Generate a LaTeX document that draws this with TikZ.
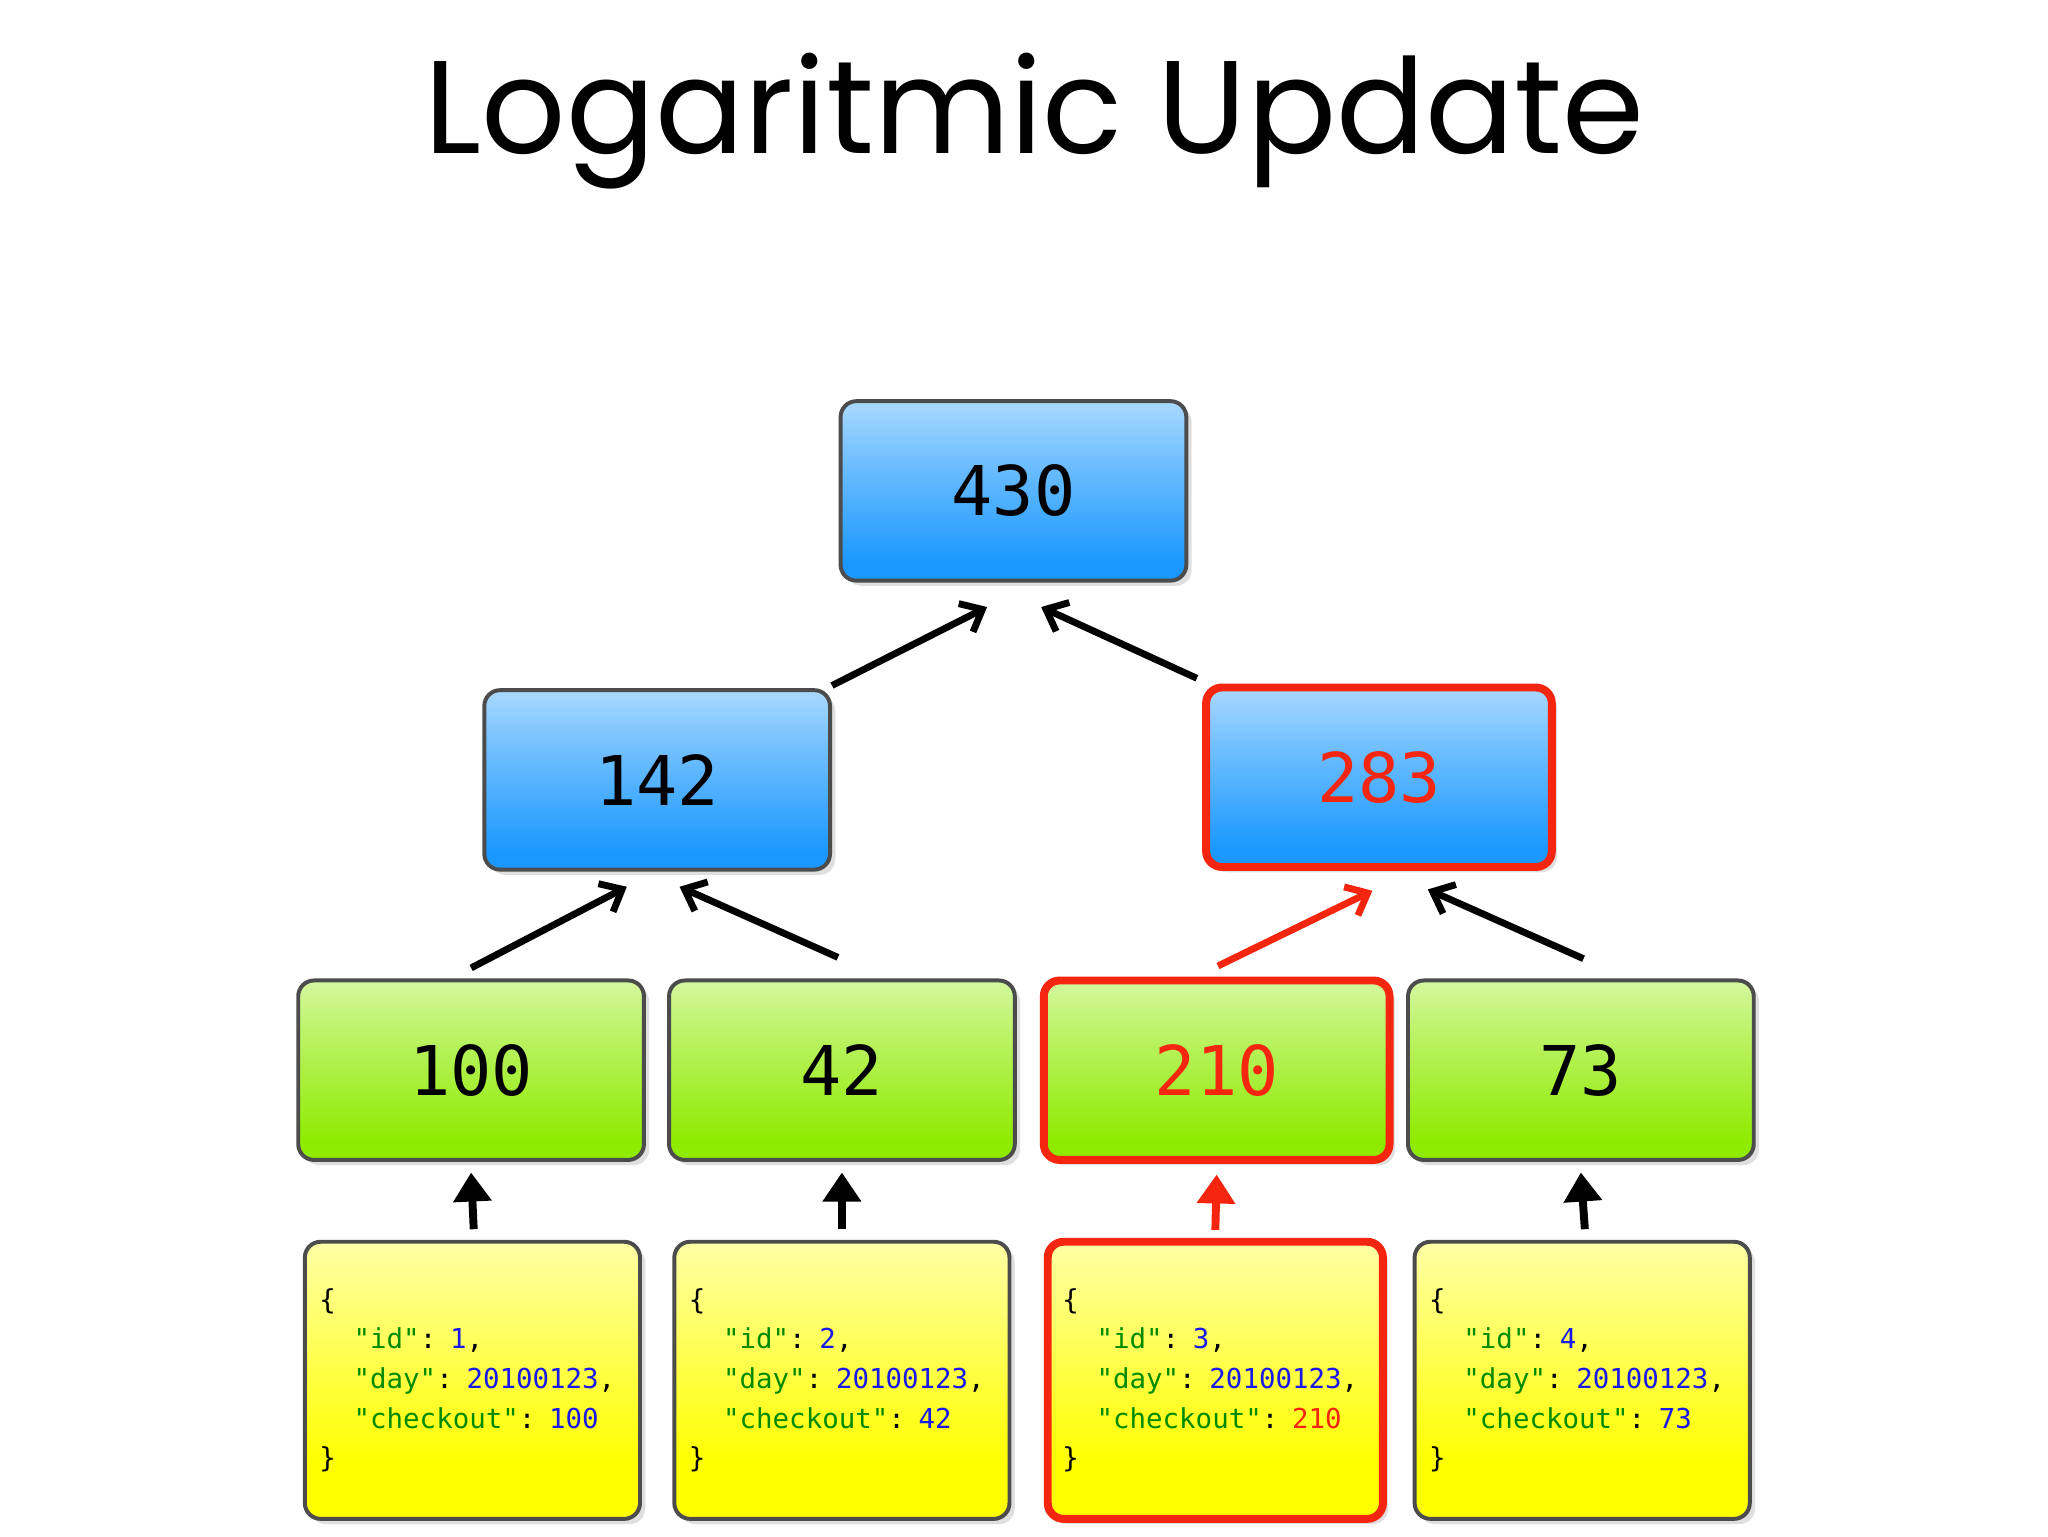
\documentclass[tikz,border=0pt]{standalone}
\usepackage{fontspec}
\setmonofont{DejaVu Sans Mono}
\newfontfamily\titlefont{Poppins}
\usetikzlibrary{shadows,arrows.meta}
\definecolor{bluec}{HTML}{1A98FF}
\definecolor{greenc}{HTML}{8EEB00}
\definecolor{yellowc}{HTML}{FFFF00}
\definecolor{keyc}{HTML}{008A00}
\definecolor{numc}{HTML}{1A1AE6}
\definecolor{redc}{HTML}{F5260F}
\pgfdeclareverticalshading{bshade}{100bp}{color(0bp)=(bluec!20!white); color(12bp)=(bluec); color(30bp)=(bluec); color(60bp)=(bluec!60!white); color(100bp)=(white)}
\pgfdeclareverticalshading{gshade}{100bp}{color(0bp)=(greenc!20!white); color(12bp)=(greenc); color(30bp)=(greenc); color(60bp)=(greenc!60!white); color(100bp)=(white)}
\pgfdeclareverticalshading{yshade}{100bp}{color(0bp)=(yellowc!15!white); color(12bp)=(yellowc); color(35bp)=(yellowc); color(75bp)=(yellowc!35!white); color(100bp)=(white)}
\tikzset{
  box/.style={draw=black!70, line width=1.5pt, rounded corners=6pt,
    drop shadow={shadow xshift=2pt, shadow yshift=-2pt, opacity=0.25},
    font=\ttfamily\fontsize{26}{30}\selectfont},
  bluebox/.style={box, shading=bshade, minimum width=131pt, minimum height=68pt},
  greenbox/.style={box, shading=gshade, minimum width=131pt, minimum height=68pt},
  yelbox/.style={box, shading=yshade, minimum width=127pt, minimum height=105pt,
    font=\ttfamily\fontsize{10.4}{15}\selectfont, align=left, text width=122pt, inner xsep=2.5pt, inner ysep=3pt},
  hot/.style={draw=redc, line width=3pt},
  arr/.style={line width=2.6pt, -{Straight Barb[length=7pt,width=12pt,line width=2.6pt]}},
  varr/.style={line width=3pt, -{Triangle[length=11pt,width=14pt]}},
}
\newcommand{\jk}[1]{\textcolor{keyc}{"#1"}}
\newcommand{\jv}[1]{\textcolor{numc}{#1}}
\newcommand{\leaf}[2]{\hspace*{3pt}\{\\\hspace*{16pt}\jk{id}: \jv{#1},\\\hspace*{16pt}\jk{day}: \jv{20100123},\\\hspace*{16pt}\jk{checkout}: #2\\\hspace*{3pt}\}}
\begin{document}
\begin{tikzpicture}[x=0.5pt,y=-0.5pt]
\useasboundingbox[fill=white] (0,0) rectangle (1552,1164);
\node (title) at (784,92) {\titlefont\fontsize{50}{56}\selectfont Logaritmic Update};
\node[bluebox] (r) at (768,372) {430};
\node[bluebox] (a) at (498,591) {142};
\node[bluebox,hot] (b) at (1045,589) {\textcolor{redc}{283}};
\node[greenbox] (l1) at (357,811) {100};
\node[greenbox] (l2) at (638,811) {42};
\node[greenbox,hot] (l3) at (922,811) {\textcolor{redc}{210}};
\node[greenbox] (l4) at (1198,811) {73};
\node[yelbox] (d1) at (358,1046) {\leaf{1}{\jv{100}}};
\node[yelbox] (d2) at (638,1046) {\leaf{2}{\jv{42}}};
\node[yelbox,hot] (d3) at (921,1046) {\leaf{3}{\textcolor{redc}{210}}};
\node[yelbox] (d4) at (1199,1046) {\leaf{4}{\jv{73}}};
\coordinate (ra) at (748,460); \coordinate (rb) at (789,460);
\coordinate (aa) at (475,672); \coordinate (ab) at (515,672);
\coordinate (ba) at (1040,675); \coordinate (bb) at (1082,674);
\draw[arr] (a.north east) ++(0,-2) -- (ra);
\draw[arr] (b.north west) ++(-4,-4) -- (rb);
\draw[arr] (l1.north) ++(0,-8) -- (aa);
\draw[arr] (l2.north) ++(-3,-16) -- (ab);
\draw[arr,redc] (l3.north) ++(1,-8) -- (ba);
\draw[arr] (l4.north) ++(2,-15) -- (bb);
\draw[varr] (d1.north) ++(1,-8) -- ([yshift=-4pt]l1.south);
\draw[varr] (d2.north) ++(0,-8) -- ([yshift=-4pt]l2.south);
\draw[varr,redc] (d3.north) ++(0,-6) -- ([yshift=-4pt]l3.south);
\draw[varr] (d4.north) ++(2,-8) -- ([yshift=-4pt]l4.south);
\end{tikzpicture}
\end{document}
